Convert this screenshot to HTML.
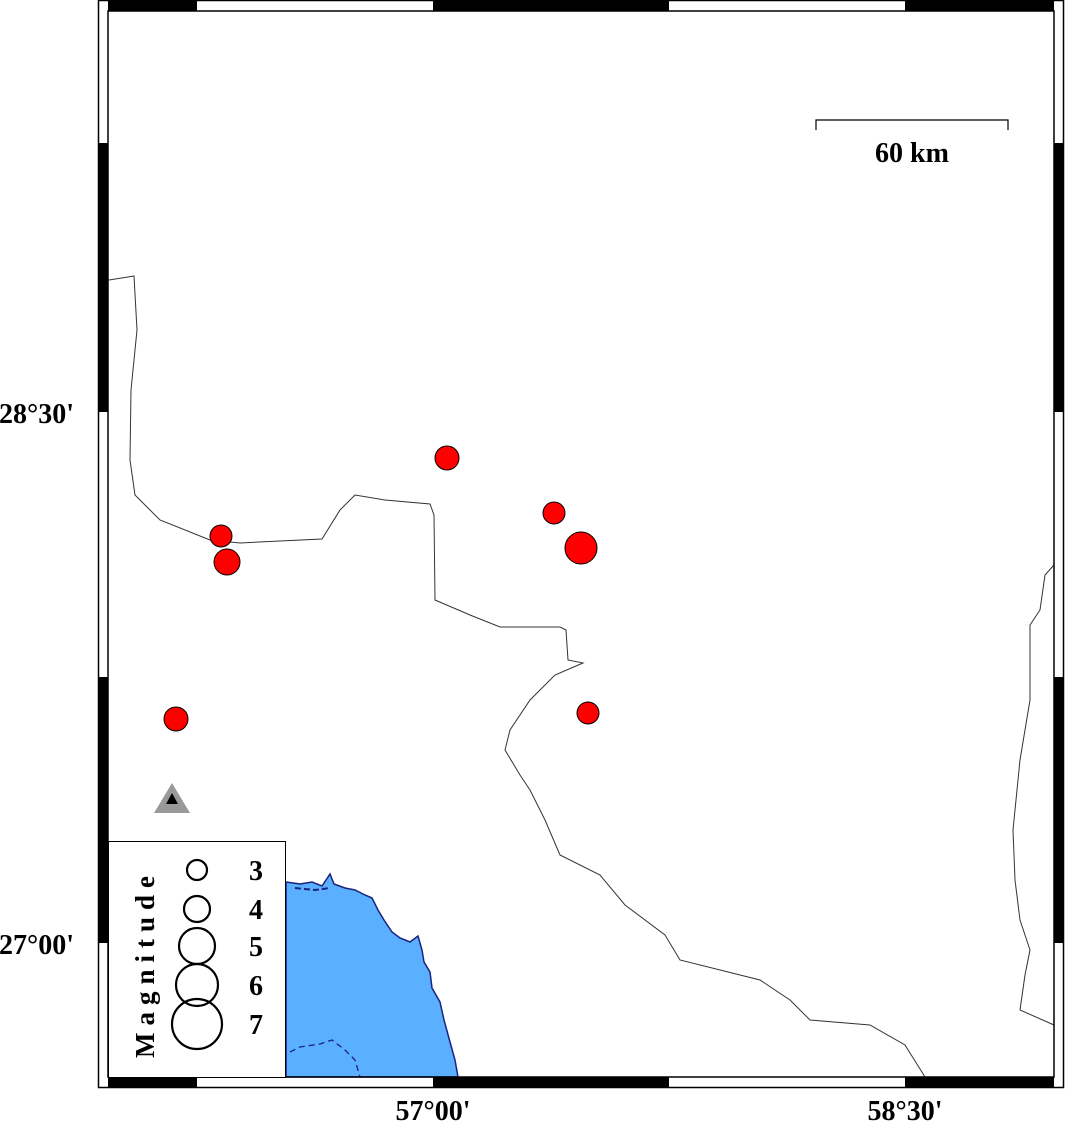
<!DOCTYPE html>
<html><head><style>
html,body{margin:0;padding:0;background:#fff;}
svg{display:block;}
text{font-family:"Liberation Serif",serif;font-weight:bold;fill:#000;}
</style></head><body>
<svg width="1066" height="1126" viewBox="0 0 1066 1126">
<rect x="0" y="0" width="1066" height="1126" fill="#fff"/>
<!-- sea -->
<path d="M286,882 L300,884 L312,882 L322,886 L330,874 L334,884 L345,888 L355,890 L365,895 L372,898 L378,910 L384,920 L392,932 L400,938 L410,942 L418,936 L422,950 L424,962 L430,972 L432,988 L440,1002 L444,1020 L450,1042 L455,1060 L458,1077 L286,1077 Z" fill="#5aafff" stroke="#1a237e" stroke-width="1.5"/>
<path d="M290,1052 L300,1047 L320,1044 L332,1040 L345,1050 L355,1060 L360,1077" fill="none" stroke="#1a237e" stroke-width="1.3" stroke-dasharray="6,4"/>
<path d="M295,888 L315,890 L330,888" fill="none" stroke="#1a237e" stroke-width="2" stroke-dasharray="6,3"/>
<!-- borders -->
<path d="M109,280 L134,276 L137,330 L131,390 L130,460 L135,495 L160,520 L210,540 L240,543 L280,541 L322,539 L340,510 L355,495 L385,500 L430,504 L434,515 L435,600 L470,615 L500,627 L560,627 L566,630 L568,660 L583,663 L555,675 L530,700 L510,730 L505,750 L520,775 L530,790 L545,820 L560,855 L600,875 L625,905 L665,935 L680,960 L760,980 L790,1000 L810,1020 L870,1025 L905,1045 L925,1077" fill="none" stroke="#333" stroke-width="1"/>
<path d="M1054,565 L1045,575 L1040,610 L1030,625 L1030,700 L1020,760 L1013,830 L1015,880 L1020,920 L1030,950 L1025,975 L1020,1010 L1054,1025" fill="none" stroke="#333" stroke-width="1"/>
<!-- frame -->
<rect x="98.5" y="0.5" width="965" height="1087" fill="none" stroke="#000" stroke-width="1.5"/>
<rect x="108" y="11" width="946" height="1066" fill="none" stroke="#000" stroke-width="1.5"/>
<g fill="#000">
<rect x="108" y="1" width="89" height="10"/><rect x="433" y="1" width="236" height="10"/><rect x="905" y="1" width="149" height="10"/>
<rect x="108" y="1077" width="89" height="10"/><rect x="433" y="1077" width="236" height="10"/><rect x="905" y="1077" width="149" height="10"/>
<rect x="99" y="143" width="9" height="269"/><rect x="99" y="677" width="9" height="266"/>
<rect x="1054" y="143" width="9" height="269"/><rect x="1054" y="677" width="9" height="266"/>
</g>
<!-- scale -->
<path d="M816,130 L816,120 L1008,120 L1008,130" fill="none" stroke="#000" stroke-width="1.2"/>
<text x="912" y="162" font-size="28" text-anchor="middle">60 km</text>
<!-- events -->
<g fill="#ff0000" stroke="#000" stroke-width="1">
<circle cx="447" cy="458" r="12"/><circle cx="554" cy="513" r="11"/><circle cx="581" cy="548" r="16"/>
<circle cx="221" cy="536" r="11"/><circle cx="227" cy="562" r="13"/><circle cx="176" cy="719" r="12"/><circle cx="588" cy="713" r="11"/>
</g>
<polygon points="172,783 154,813 190,813" fill="#999"/>
<polygon points="172,793 166,804 178,804" fill="#000"/>
<!-- legend -->
<rect x="108.5" y="841.5" width="177" height="236" fill="#fff" stroke="#000" stroke-width="1"/>
<g fill="none" stroke="#000" stroke-width="2.2">
<circle cx="197" cy="870" r="10"/><circle cx="197" cy="909" r="13"/><circle cx="197" cy="946" r="18"/><circle cx="197" cy="985" r="21"/><circle cx="197" cy="1024" r="25"/>
</g>
<g font-size="28"><text x="249" y="880">3</text><text x="249" y="919">4</text><text x="249" y="956">5</text><text x="249" y="995">6</text><text x="249" y="1034">7</text></g>
<text transform="translate(154,1058) rotate(-90)" font-size="27" letter-spacing="7">Magnitude</text>
<!-- axis labels -->
<g font-size="28">
<text x="-1" y="423">28°30'</text><text x="-1" y="954">27°00'</text>
<text x="433" y="1120" text-anchor="middle">57°00'</text><text x="905" y="1120" text-anchor="middle">58°30'</text>
</g>
</svg>
</body></html>
